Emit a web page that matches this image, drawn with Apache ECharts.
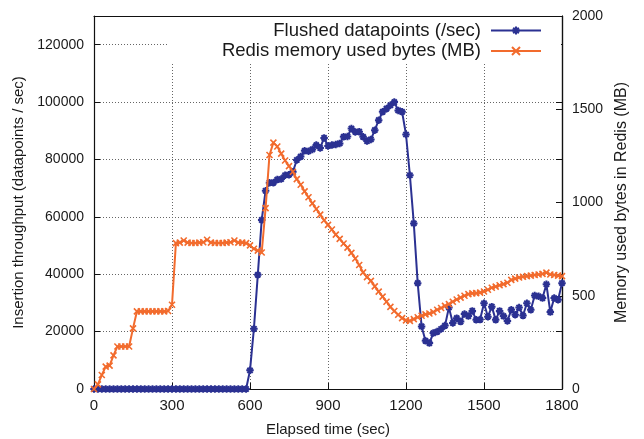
<!DOCTYPE html>
<html>
<head>
<meta charset="utf-8">
<title>Flushed datapoints vs Redis memory</title>
<script src="https://cdn.jsdelivr.net/npm/echarts@6/dist/echarts.min.js"></script>
<style>
    html, body { margin: 0; padding: 0; background: #fff; }
    #chart { width: 644px; height: 439px; }
</style>
</head>
<body>
<div id="chart"></div>
<script>
// Sample times (sec), one sample every 15 s
var times = [
    0, 15, 30, 45, 60, 75, 90, 105, 120, 135, 150, 165, 180, 195, 210, 225, 240, 255, 270, 285,
    300, 315, 330, 345, 360, 375, 390, 405, 420, 435, 450, 465, 480, 495, 510, 525, 540, 555, 570, 585,
    600, 615, 630, 645, 660, 675, 690, 705, 720, 735, 750, 765, 780, 795, 810, 825, 840, 855, 870, 885,
    900, 915, 930, 945, 960, 975, 990, 1005, 1020, 1035, 1050, 1065, 1080, 1095, 1110, 1125, 1140, 1155, 1170, 1185,
    1200, 1215, 1230, 1245, 1260, 1275, 1290, 1305, 1320, 1335, 1350, 1365, 1380, 1395, 1410, 1425, 1440, 1455, 1470, 1485,
    1500, 1515, 1530, 1545, 1560, 1575, 1590, 1605, 1620, 1635, 1650, 1665, 1680, 1695, 1710, 1725, 1740, 1755, 1770, 1785,
    1800
];

// Flushed datapoints (/sec), left axis
var flushed = [
    0, 0, 0, 0, 0, 0, 0, 0, 0, 0, 0, 0, 0, 0, 0, 0, 0, 0, 0, 0,
    0, 0, 0, 0, 0, 0, 0, 0, 0, 0, 0, 0, 0, 0, 0, 0, 0, 0, 0, 0,
    6500, 21000, 39800, 58900, 69100, 71900, 71900, 73000, 73200, 74500, 74700, 75700, 79800, 81000, 83000, 82900, 83500, 85000, 84000, 87500,
    84700, 85000, 85200, 85600, 87900, 88000, 90800, 89600, 89700, 87900, 86400, 87000, 90200, 93700, 96600, 97700, 98900, 100000, 97100, 96600,
    88700, 74500, 57700, 36900, 21800, 16800, 16000, 19500, 20000, 20900, 22100, 28400, 23000, 24700, 23500, 26100, 25400, 27200, 24100, 24200,
    29900, 25200, 28700, 24100, 27200, 25400, 23700, 27600, 25900, 28400, 25600, 29900, 27600, 32600, 32300, 31700, 36500, 26800, 31700, 31100,
    36900
];

// Redis memory used bytes (MB), right axis
var redisMem = [
    0, 25, 75, 120, 125, 180, 228, 228, 228, 228, 325, 416, 416, 416, 416, 416, 416, 416, 416, 418,
    452, 782, 785, 796, 785, 783, 783, 785, 787, 800, 785, 783, 783, 783, 785, 787, 796, 785, 785, 782,
    770, 752, 742, 732, 970, 1255, 1321, 1300, 1262, 1225, 1195, 1165, 1125, 1095, 1060, 1028, 995, 965, 935, 905,
    880, 855, 828, 805, 780, 758, 730, 700, 665, 625, 600, 580, 550, 522, 495, 468, 440, 418, 398, 380,
    368, 365, 375, 385, 393, 400, 405, 412, 425, 434, 446, 455, 468, 480, 490, 500, 509, 513, 514, 517,
    523, 532, 543, 549, 556, 562, 570, 585, 592, 598, 602, 605, 608, 611, 614, 617, 624, 614, 611, 608,
    605
];

var seriesNames = ['Flushed datapoints (/sec)', 'Redis memory used bytes (MB)'];

(function() {
    'use strict';

    var blue = '#2b3192';
    var orange = '#f26b2d';
    var ink = '#1a1a1a';
    var font = '"Liberation Sans", Arial, Helvetica, sans-serif';

    // gnuplot-like point types: asterisk and cross
    var starPath = 'path://M0,5L10,5M5,0L5,10M1.5,1.5L8.5,8.5M8.5,1.5L1.5,8.5';
    var crossPath = 'path://M0,0L10,10M10,0L0,10';

    function pairs(xs, ys) {
        return xs.map(function(x, i) { return [x, ys[i]]; });
    }

    function plain(v) {
        return String(v);
    }

    var gridLine = { show: true, lineStyle: { color: '#666', type: [1, 2], width: 1 } };
    var frame = { show: true, onZero: false, lineStyle: { color: '#111', width: 1.2 } };
    var innerTick = { show: true, inside: true, length: 6, lineStyle: { color: '#111', width: 1 } };

    var chart = echarts.init(document.getElementById('chart'));

    var option = {
        animation: false,
        textStyle: { fontFamily: font },
        grid: { left: 94, right: 82, top: 16, bottom: 50, outerBoundsMode: 'none', containLabel: false },
        legend: {
            data: seriesNames,
            orient: 'vertical',
            right: 83,
            top: 17,
            align: 'right',
            itemWidth: 50,
            itemHeight: 10,
            itemGap: 1.5,
            padding: [4, 19, 2, 54],
            backgroundColor: '#fff',
            textStyle: {
                fontFamily: font, fontSize: 18.5, color: ink, lineHeight: 18,
                padding: [0, 5, 0, 0]
            }
        },
        xAxis: [{
            type: 'value',
            min: 0,
            max: 1800,
            interval: 300,
            name: 'Elapsed time (sec)',
            nameLocation: 'middle',
            nameGap: 33,
            nameTextStyle: { fontFamily: font, fontSize: 15, color: ink },
            axisLine: frame,
            axisTick: innerTick,
            axisLabel: { fontFamily: font, fontSize: 15, color: ink, margin: 9, formatter: plain },
            splitLine: gridLine
        }, {
            type: 'value',
            position: 'top',
            min: 0,
            max: 1800,
            interval: 300,
            axisLine: frame,
            axisTick: innerTick,
            axisLabel: { show: false },
            splitLine: { show: false }
        }],
        yAxis: [{
            type: 'value',
            position: 'left',
            min: 0,
            max: 130000,
            interval: 20000,
            name: 'Insertion throughput (datapoints / sec)',
            nameLocation: 'middle',
            nameGap: 60,
            nameTextStyle: { fontFamily: font, fontSize: 15, color: ink },
            axisLine: frame,
            axisTick: innerTick,
            axisLabel: {
                fontFamily: font, fontSize: 14, color: ink, margin: 10,
                formatter: function(v) { return v % 20000 === 0 ? String(v) : ''; }
            },
            splitLine: gridLine
        }, {
            type: 'value',
            position: 'right',
            min: 0,
            max: 2000,
            interval: 500,
            name: 'Memory used bytes in Redis (MB)',
            nameLocation: 'middle',
            nameGap: 52,
            nameRotate: 90,
            nameTextStyle: { fontFamily: font, fontSize: 16, color: ink },
            axisLine: frame,
            axisTick: innerTick,
            axisLabel: { fontFamily: font, fontSize: 14, color: ink, margin: 10, formatter: plain },
            splitLine: { show: false }
        }, {
            type: 'value',
            position: 'right',
            min: 0,
            max: 130000,
            interval: 20000,
            axisLine: frame,
            axisTick: innerTick,
            axisLabel: { show: false },
            splitLine: { show: false }
        }],
        series: [{
            name: seriesNames[0],
            type: 'line',
            xAxisIndex: 0,
            yAxisIndex: 0,
            data: pairs(times, flushed),
            symbol: starPath,
            symbolSize: 7.5,
            showAllSymbol: true,
            lineStyle: { color: blue, width: 2 },
            itemStyle: { color: blue, borderColor: blue, borderWidth: 2 },
            z: 2
        }, {
            name: seriesNames[1],
            type: 'line',
            xAxisIndex: 0,
            yAxisIndex: 1,
            data: pairs(times, redisMem),
            symbol: crossPath,
            symbolSize: 6,
            showAllSymbol: true,
            lineStyle: { color: orange, width: 2 },
            itemStyle: { color: orange, borderColor: orange, borderWidth: 1.6 },
            z: 3
        }]
    };

    chart.setOption(option);
})();
</script>
</body>
</html>
